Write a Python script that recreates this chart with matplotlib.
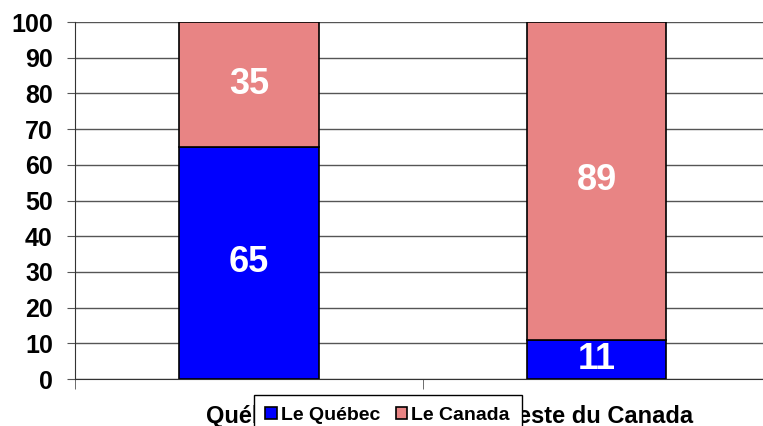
import matplotlib
matplotlib.use("Agg")
import matplotlib.pyplot as plt
from matplotlib.ticker import FixedLocator

categories = ["Québec", "Reste du Canada"]
quebec = [65, 11]
canada = [35, 89]
series_names = ["Le Québec", "Le Canada"]
y_ticks = list(range(0, 101, 10))

plt.rcParams["font.family"] = ["Liberation Sans", "DejaVu Sans"]

fig = plt.figure(figsize=(7.63, 4.26), dpi=100, facecolor="white")
ax = fig.add_axes([0.0983, 0.1103, 0.912, 0.8380])

x = list(range(len(categories)))
b1 = ax.bar(x, quebec, width=0.4, color="#0000ff", edgecolor="black",
            linewidth=1.2, label=series_names[0], zorder=3)
b2 = ax.bar(x, canada, width=0.4, bottom=quebec, color="#e88484",
            edgecolor="black", linewidth=1.2, label=series_names[1], zorder=3)

for i in x:
    ax.text(i, quebec[i] / 2, str(quebec[i]), ha="center", va="center",
            color="white", fontsize=26, fontweight="bold", zorder=4)
    ax.text(i, quebec[i] + canada[i] / 2, str(canada[i]), ha="center",
            va="center", color="white", fontsize=26, fontweight="bold", zorder=4)

ax.set_xlim(-0.5, 1.5)
ax.set_ylim(0, 100)
ax.set_yticks(y_ticks)
ax.set_yticklabels([str(t) for t in y_ticks], fontsize=18, fontweight="bold")
ax.grid(axis="y", color="#555555", linewidth=1.0, zorder=0)

ax.set_xticks(x)
ax.set_xticklabels(categories, fontsize=17, fontweight="bold")
ax.tick_params(axis="x", which="major", length=0, pad=19)
ax.xaxis.set_minor_locator(FixedLocator([-0.5, 0.5, 1.5]))
ax.tick_params(axis="x", which="minor", length=7, direction="out", color="#555555")
ax.tick_params(axis="y", length=6, color="#555555", pad=10)

for side in ["top", "right"]:
    ax.spines[side].set_visible(False)
ax.spines["left"].set_color("#333333")
ax.spines["bottom"].set_color("#333333")

leg = fig.legend(handles=[b1, b2], loc="upper center",
                 bbox_to_anchor=(0.508, 0.073), ncol=2, frameon=True,
                 fancybox=False, edgecolor="black", framealpha=1,
                 prop={"weight": "bold", "size": 14}, borderaxespad=0,
                 handlelength=0.6, handleheight=0.6, handletextpad=0.2,
                 columnspacing=0.8, borderpad=0.6)
leg.get_frame().set_linewidth(1.0)

fig.savefig("out.png", dpi=100, facecolor="white")
